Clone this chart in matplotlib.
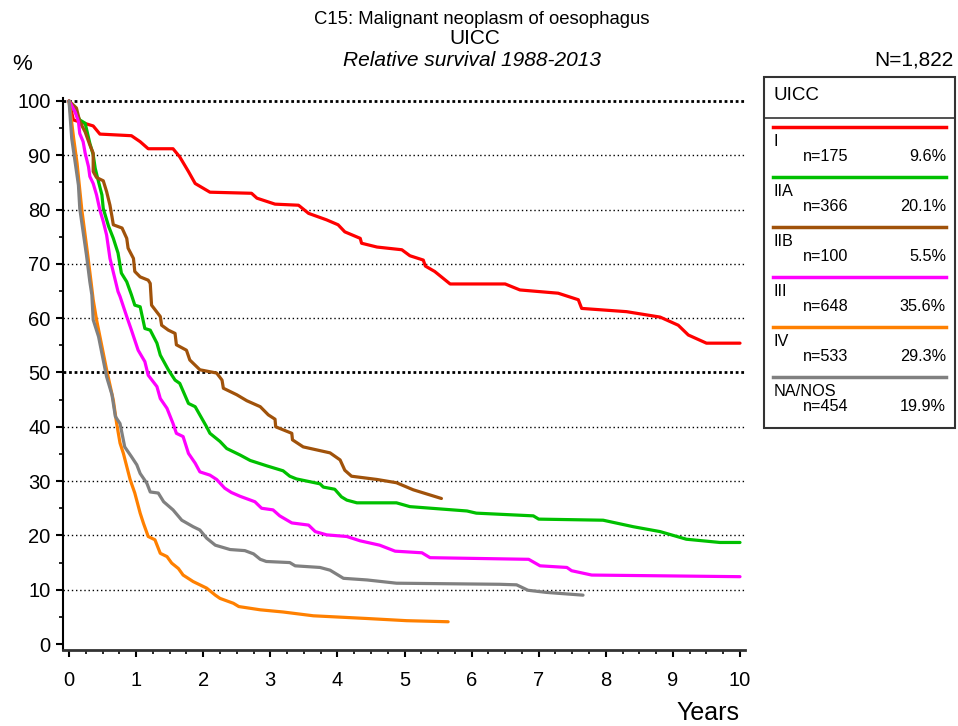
import matplotlib
matplotlib.use("Agg")
import matplotlib.pyplot as plt
from matplotlib.patches import Rectangle
from matplotlib.lines import Line2D

plt.rcParams['font.family'] = ['Liberation Sans', 'DejaVu Sans']

# ---------------- data ----------------
groups = ["I", "IIA", "IIB", "III", "IV", "NA/NOS"]
counts = ["n=175", "n=366", "n=100", "n=648", "n=533", "n=454"]
shares = ["9.6%", "20.1%", "5.5%", "35.6%", "29.3%", "19.9%"]
colors = ["#ff0000", "#00c000", "#a0520a", "#ff00ff", "#ff8000", "#808080"]

t_I = [0, 0.065, 0.36, 0.46, 0.93, 1.06, 1.18, 1.55, 1.65, 1.78, 1.88, 2.10, 2.72, 2.80,
       3.07, 3.42, 3.57, 3.84, 4.01, 4.11, 4.34, 4.36, 4.59, 4.96, 5.08, 5.28, 5.31, 5.45,
       5.68, 6.50, 6.72, 7.29, 7.59, 7.64, 8.31, 8.81, 9.08, 9.23, 9.50, 10.0]
s_I = [100, 96.5, 95.4, 93.9, 93.6, 92.5, 91.2, 91.2, 89.7, 87.0, 84.8, 83.2, 83.0, 82.1,
       81.0, 80.8, 79.3, 78.1, 77.2, 75.9, 74.7, 73.8, 73.1, 72.6, 71.5, 70.7, 69.6, 68.6,
       66.3, 66.3, 65.2, 64.6, 63.4, 61.8, 61.2, 60.2, 58.7, 56.9, 55.4, 55.4]

t_IIA = [0, 0.16, 0.24, 0.31, 0.36, 0.39, 0.44, 0.49, 0.51, 0.59, 0.66, 0.73, 0.78, 0.86,
         0.93, 0.98, 1.06, 1.13, 1.21, 1.31, 1.36, 1.48, 1.58, 1.65, 1.78, 1.88, 2.05, 2.10,
         2.25, 2.35, 2.55, 2.70, 2.95, 3.19, 3.29, 3.39, 3.74, 3.79, 3.96, 4.06, 4.14, 4.29,
         4.88, 5.08, 5.93, 6.07, 6.92, 7.0, 7.96, 8.41, 8.81, 9.20, 9.70, 10.0]
s_IIA = [100, 96.5, 95.9, 92.2, 90.1, 87.6, 85.1, 82.7, 80.2, 76.9, 74.7, 72.0, 68.3, 66.7,
         64.3, 62.4, 62.1, 58.1, 57.8, 55.4, 53.2, 50.5, 48.6, 48.0, 44.3, 43.7, 40.0, 38.8,
         37.3, 36.0, 34.8, 33.8, 32.8, 31.9, 30.9, 30.4, 29.5, 28.9, 28.5, 27.1, 26.5, 26.0,
         26.0, 25.3, 24.5, 24.1, 23.6, 23.0, 22.8, 21.6, 20.7, 19.3, 18.7, 18.7]

t_IIB = [0, 0.11, 0.16, 0.24, 0.31, 0.36, 0.36, 0.41, 0.51, 0.56, 0.61, 0.64, 0.66, 0.79,
         0.86, 0.88, 0.96, 0.98, 1.06, 1.18, 1.21, 1.23, 1.36, 1.38, 1.48, 1.58, 1.60, 1.75,
         1.80, 1.95, 2.20, 2.28, 2.30, 2.50, 2.65, 2.85, 2.97, 3.07, 3.08, 3.32, 3.33, 3.49,
         3.89, 4.04, 4.11, 4.21, 4.59, 4.88, 5.13, 5.55]
s_IIB = [100, 98.7, 96.2, 94.3, 91.9, 90.4, 87.0, 85.9, 85.3, 83.3, 80.8, 78.7, 77.2, 76.6,
         74.7, 72.9, 71.0, 68.6, 67.6, 67.0, 66.4, 62.4, 60.3, 58.7, 57.8, 57.2, 55.1, 54.1,
         52.3, 50.5, 49.9, 48.6, 47.1, 45.9, 44.8, 43.7, 42.2, 41.4, 40.0, 38.8, 37.6, 36.3,
         35.2, 33.9, 32.0, 30.9, 30.3, 29.7, 28.4, 26.8]

t_III = [0, 0.09, 0.14, 0.16, 0.21, 0.24, 0.29, 0.31, 0.36, 0.41, 0.46, 0.51, 0.56, 0.61,
         0.73, 0.76, 0.86, 0.93, 1.03, 1.13, 1.18, 1.31, 1.36, 1.46, 1.55, 1.60, 1.70, 1.78,
         1.88, 1.95, 2.10, 2.20, 2.32, 2.42, 2.55, 2.77, 2.87, 3.04, 3.14, 3.32, 3.57, 3.67,
         3.84, 4.14, 4.34, 4.63, 4.86, 5.26, 5.38, 6.85, 7.02, 7.42, 7.49, 7.79, 10.0]
s_III = [100, 98.0, 96.2, 94.0, 92.5, 90.4, 87.9, 86.1, 84.8, 82.7, 79.9, 77.8, 75.3, 71.0,
         64.9, 64.0, 60.3, 57.8, 54.1, 52.0, 49.5, 47.4, 45.2, 43.4, 40.6, 38.8, 38.2, 35.1,
         33.3, 31.7, 31.1, 30.3, 28.7, 27.9, 27.2, 26.2, 25.0, 24.7, 23.6, 22.3, 21.9, 20.7,
         20.1, 19.8, 19.0, 18.2, 17.1, 16.8, 15.9, 15.6, 14.4, 14.1, 13.5, 12.7, 12.4]

t_IV = [0, 0.07, 0.12, 0.19, 0.28, 0.33, 0.36, 0.41, 0.49, 0.56, 0.66, 0.71, 0.76, 0.81,
        0.86, 0.91, 0.98, 1.06, 1.11, 1.18, 1.28, 1.36, 1.46, 1.53, 1.63, 1.70, 1.85, 2.05,
        2.18, 2.25, 2.45, 2.53, 2.85, 3.19, 3.64, 4.44, 5.03, 5.65]
s_IV = [100, 93.0, 88.5, 80.0, 71.5, 66.5, 63.4, 59.7, 54.8, 50.5, 44.9, 40.6, 37.0, 35.1,
        32.7, 30.3, 27.8, 24.1, 22.2, 19.8, 19.2, 16.7, 16.1, 14.9, 13.9, 12.7, 11.5, 10.3,
        9.0, 8.4, 7.5, 6.9, 6.3, 5.9, 5.2, 4.7, 4.3, 4.1]

t_NA = [0, 0.04, 0.09, 0.14, 0.16, 0.21, 0.26, 0.31, 0.34, 0.36, 0.44, 0.49, 0.56, 0.64,
        0.69, 0.76, 0.83, 0.93, 1.01, 1.06, 1.16, 1.21, 1.33, 1.41, 1.55, 1.68, 1.85, 1.95,
        2.05, 2.18, 2.40, 2.62, 2.75, 2.85, 2.94, 3.29, 3.37, 3.74, 3.89, 4.01, 4.09, 4.44,
        4.88, 6.42, 6.67, 6.84, 7.12, 7.66]
s_NA = [100, 93.1, 88.8, 84.5, 80.2, 75.9, 71.6, 66.7, 64.3, 59.7, 56.6, 53.5, 49.2, 45.9,
        41.9, 40.6, 36.3, 34.5, 33.0, 31.4, 29.6, 28.0, 27.8, 26.2, 24.7, 22.8, 21.6, 21.0,
        19.5, 18.2, 17.4, 17.2, 16.6, 15.6, 15.2, 15.0, 14.4, 14.1, 13.6, 12.7, 12.1, 11.8,
        11.2, 11.0, 10.9, 9.9, 9.5, 9.0]

series_t = [t_I, t_IIA, t_IIB, t_III, t_IV, t_NA]
series_s = [s_I, s_IIA, s_IIB, s_III, s_IV, s_NA]

x_ticks = list(range(0, 11))
y_ticks = list(range(0, 101, 10))

# ---------------- figure ----------------
W, H = 958, 726
fig = plt.figure(figsize=(W / 100, H / 100), dpi=100)

ax = fig.add_axes([63 / W, 1 - 650 / H, (744.7 - 63) / W, (650 - 97.7) / H])
ax.set_xlim(-0.09, 10.07)
ax.set_ylim(-1.1, 100.6)

# gridlines
for yv in range(10, 101, 10):
    if yv in (50, 100):
        ax.axhline(yv, color='black', lw=2.0, ls=(0, (1, 1)), zorder=1)
    else:
        ax.axhline(yv, color='black', lw=1.0, ls=(0, (1, 2)), zorder=1)

for t, s, c in zip(series_t, series_s, colors):
    ax.plot(t, s, color=c, lw=2.3, solid_joinstyle='round', solid_capstyle='round', zorder=3)

for side in ('top', 'right'):
    ax.spines[side].set_visible(False)
ax.spines['left'].set_linewidth(1.5)
ax.spines['bottom'].set_linewidth(2.0)
ax.spines['bottom'].set_color('#333333')

ax.set_xticks(x_ticks)
ax.set_yticks(y_ticks)
ax.set_xticks([i * 0.25 for i in range(41)], minor=True)
ax.set_yticks(list(range(5, 100, 10)), minor=True)
ax.tick_params(axis='both', which='major', direction='out', length=5, width=1.5,
               labelsize=14.5, colors='black')
ax.tick_params(axis='both', which='minor', direction='out', length=3, width=1.2)
ax.tick_params(axis='x', pad=10)
ax.tick_params(axis='y', pad=4)

# ---------------- overlay in pixel coordinates ----------------
ov = fig.add_axes([0, 0, 1, 1], facecolor='none')
ov.set_xlim(0, W)
ov.set_ylim(H, 0)
ov.axis('off')

ov.text(482, 19, "C15: Malignant neoplasm of oesophagus", ha='center', va='center', fontsize=13.3)
ov.text(475, 39, "UICC", ha='center', va='center', fontsize=15)
ov.text(472, 60, "Relative survival 1988-2013", ha='center', va='center', fontsize=15,
        style='italic')
ov.text(954, 60, "N=1,822", ha='right', va='center', fontsize=15)
ov.text(22, 64, "%", ha='center', va='center', fontsize=16)
ov.text(708, 713, "Years", ha='center', va='center', fontsize=18)

# legend box
ov.add_patch(Rectangle((764, 77), 955 - 764, 428 - 77, fill=False, ec='#333333', lw=1.5))
ov.plot([764, 955], [118, 118], color='#333333', lw=1.2)
ov.text(774, 96, "UICC", ha='left', va='center', fontsize=13.5)
for i, (g, n, p, c) in enumerate(zip(groups, counts, shares, colors)):
    y0 = 126.7 + 50 * i
    ov.add_line(Line2D([773, 946], [y0, y0], color=c, lw=2.5))
    ov.text(774, y0 + 15, g, ha='left', va='center', fontsize=11.7)
    ov.text(803, y0 + 29.5, n, ha='left', va='center', fontsize=11.7)
    ov.text(946, y0 + 29.5, p, ha='right', va='center', fontsize=11.7)

fig.savefig("out.png", dpi=100)
